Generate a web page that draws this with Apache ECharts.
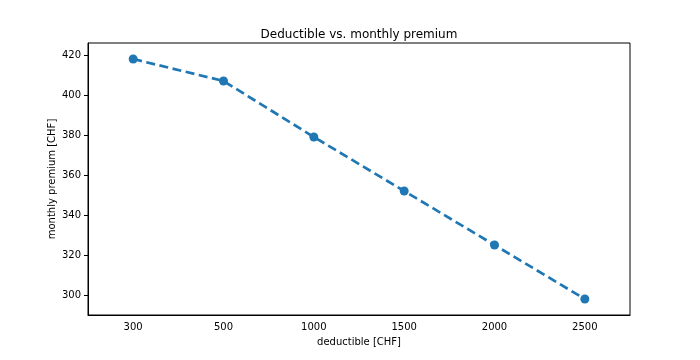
<!DOCTYPE html>
<html><head><meta charset="utf-8">
<script src="https://cdn.jsdelivr.net/npm/echarts@6/dist/echarts.min.js"></script>
<style>html,body{margin:0;padding:0;background:#fff}#c{width:700px;height:360px}</style>
</head><body><div id="c"></div>
<script>
var categories = ['300', '500', '1000', '1500', '2000', '2500'];
var premiums = [418, 407, 379, 352, 325, 298];
var yTicks = [300, 320, 340, 360, 380, 400, 420];

var chart = echarts.init(document.getElementById('c'), null, {renderer: 'canvas'});
var font = 'DejaVu Sans';
chart.setOption({
  animation: false,
  backgroundColor: '#fff',
  title: {
    text: 'Deductible vs. monthly premium',
    left: 354, top: 24, textAlign: 'center',
    textStyle: {fontFamily: font, fontSize: 12, fontWeight: 'normal', color: '#000'}
  },
  grid: {left: 88, right: 70, top: 43, bottom: 45, show: true, borderColor: '#000', borderWidth: 1, containLabel: false},
  xAxis: {
    type: 'category', data: categories, boundaryGap: true,
    name: 'deductible [CHF]', nameLocation: 'middle', nameGap: 22, nameMoveOverlap: false,
    nameTextStyle: {fontFamily: font, fontSize: 10, color: '#000'},
    axisLine: {lineStyle: {color: '#000', width: 1}},
    axisTick: {alignWithLabel: true, length: 4, lineStyle: {color: '#000'}},
    axisLabel: {fontFamily: font, fontSize: 10, color: '#000', margin: 7},
    splitLine: {show: false}
  },
  yAxis: {
    type: 'value', min: 290, max: 426,
    name: 'monthly premium [CHF]', nameLocation: 'middle', nameGap: 31, nameMoveOverlap: false,
    nameTextStyle: {fontFamily: font, fontSize: 10, color: '#000'},
    axisLine: {show: true, lineStyle: {color: '#000', width: 1}},
    axisTick: {show: true, length: 4, lineStyle: {color: '#000'}, customValues: yTicks},
    axisLabel: {fontFamily: font, fontSize: 10, color: '#000', margin: 7, customValues: yTicks},
    splitLine: {show: false}
  },
  series: [{
    type: 'line', data: premiums,
    symbol: 'circle', symbolSize: 9,
    itemStyle: {color: '#1f77b4'},
    lineStyle: {color: '#1f77b4', width: 2.7, type: [9, 4.5]}
  }]
});
</script></body></html>
